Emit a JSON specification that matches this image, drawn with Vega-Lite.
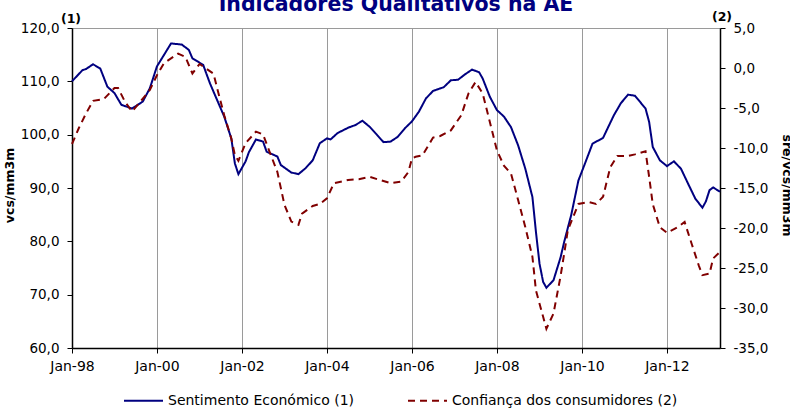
{
  "$schema": "https://vega.github.io/schema/vega-lite/v6.json",
  "description": "Indicadores Qualitativos na AE",
  "autosize": {"type": "none"},
  "padding": {"left": 72, "top": 28, "right": 70, "bottom": 64},
  "width": 648,
  "height": 320,
  "title": {
    "text": "Indicadores Qualitativos na AE",
    "font": "DejaVu Sans",
    "fontSize": 20.5,
    "fontWeight": "bold",
    "color": "#000080",
    "anchor": "middle",
    "offset": -4
  },
  "datasets": {
    "sentimento": [
      {"date": "1998-01-01", "value": 110.0, "series": "Sentimento Económico (1)"},
      {"date": "1998-04-01", "value": 112.1, "series": "Sentimento Económico (1)"},
      {"date": "1998-05-01", "value": 112.3, "series": "Sentimento Económico (1)"},
      {"date": "1998-07-01", "value": 113.2, "series": "Sentimento Económico (1)"},
      {"date": "1998-09-01", "value": 112.4, "series": "Sentimento Económico (1)"},
      {"date": "1998-11-01", "value": 109.0, "series": "Sentimento Económico (1)"},
      {"date": "1999-01-01", "value": 107.8, "series": "Sentimento Económico (1)"},
      {"date": "1999-03-01", "value": 105.6, "series": "Sentimento Económico (1)"},
      {"date": "1999-06-01", "value": 104.9, "series": "Sentimento Económico (1)"},
      {"date": "1999-09-01", "value": 106.2, "series": "Sentimento Económico (1)"},
      {"date": "1999-11-01", "value": 108.7, "series": "Sentimento Económico (1)"},
      {"date": "2000-01-01", "value": 112.8, "series": "Sentimento Económico (1)"},
      {"date": "2000-05-01", "value": 117.1, "series": "Sentimento Económico (1)"},
      {"date": "2000-08-01", "value": 116.9, "series": "Sentimento Económico (1)"},
      {"date": "2000-10-01", "value": 115.9, "series": "Sentimento Económico (1)"},
      {"date": "2000-11-01", "value": 114.3, "series": "Sentimento Económico (1)"},
      {"date": "2001-02-01", "value": 113.1, "series": "Sentimento Económico (1)"},
      {"date": "2001-04-01", "value": 109.6, "series": "Sentimento Económico (1)"},
      {"date": "2001-06-01", "value": 106.5, "series": "Sentimento Económico (1)"},
      {"date": "2001-08-01", "value": 103.4, "series": "Sentimento Económico (1)"},
      {"date": "2001-10-01", "value": 99.3, "series": "Sentimento Económico (1)"},
      {"date": "2001-11-01", "value": 94.6, "series": "Sentimento Económico (1)"},
      {"date": "2001-12-01", "value": 92.6, "series": "Sentimento Económico (1)"},
      {"date": "2002-02-01", "value": 95.0, "series": "Sentimento Económico (1)"},
      {"date": "2002-03-01", "value": 96.7, "series": "Sentimento Económico (1)"},
      {"date": "2002-05-01", "value": 99.1, "series": "Sentimento Económico (1)"},
      {"date": "2002-07-01", "value": 98.7, "series": "Sentimento Económico (1)"},
      {"date": "2002-08-01", "value": 96.8, "series": "Sentimento Económico (1)"},
      {"date": "2002-11-01", "value": 95.9, "series": "Sentimento Económico (1)"},
      {"date": "2002-12-01", "value": 94.3, "series": "Sentimento Económico (1)"},
      {"date": "2003-03-01", "value": 92.9, "series": "Sentimento Económico (1)"},
      {"date": "2003-05-01", "value": 92.6, "series": "Sentimento Económico (1)"},
      {"date": "2003-07-01", "value": 93.7, "series": "Sentimento Económico (1)"},
      {"date": "2003-09-01", "value": 95.2, "series": "Sentimento Económico (1)"},
      {"date": "2003-11-01", "value": 98.4, "series": "Sentimento Económico (1)"},
      {"date": "2004-01-01", "value": 99.3, "series": "Sentimento Económico (1)"},
      {"date": "2004-02-01", "value": 99.1, "series": "Sentimento Económico (1)"},
      {"date": "2004-04-01", "value": 100.3, "series": "Sentimento Económico (1)"},
      {"date": "2004-07-01", "value": 101.3, "series": "Sentimento Económico (1)"},
      {"date": "2004-09-01", "value": 101.8, "series": "Sentimento Económico (1)"},
      {"date": "2004-11-01", "value": 102.6, "series": "Sentimento Económico (1)"},
      {"date": "2005-01-01", "value": 101.5, "series": "Sentimento Económico (1)"},
      {"date": "2005-03-01", "value": 100.1, "series": "Sentimento Económico (1)"},
      {"date": "2005-05-01", "value": 98.6, "series": "Sentimento Económico (1)"},
      {"date": "2005-07-01", "value": 98.7, "series": "Sentimento Económico (1)"},
      {"date": "2005-09-01", "value": 99.6, "series": "Sentimento Económico (1)"},
      {"date": "2005-11-01", "value": 101.2, "series": "Sentimento Económico (1)"},
      {"date": "2006-01-01", "value": 102.5, "series": "Sentimento Económico (1)"},
      {"date": "2006-03-01", "value": 104.3, "series": "Sentimento Económico (1)"},
      {"date": "2006-05-01", "value": 106.8, "series": "Sentimento Económico (1)"},
      {"date": "2006-07-01", "value": 108.2, "series": "Sentimento Económico (1)"},
      {"date": "2006-10-01", "value": 108.9, "series": "Sentimento Económico (1)"},
      {"date": "2006-12-01", "value": 110.2, "series": "Sentimento Económico (1)"},
      {"date": "2007-02-01", "value": 110.3, "series": "Sentimento Económico (1)"},
      {"date": "2007-04-01", "value": 111.3, "series": "Sentimento Económico (1)"},
      {"date": "2007-06-01", "value": 112.2, "series": "Sentimento Económico (1)"},
      {"date": "2007-08-01", "value": 111.7, "series": "Sentimento Económico (1)"},
      {"date": "2007-09-01", "value": 110.5, "series": "Sentimento Económico (1)"},
      {"date": "2007-11-01", "value": 107.1, "series": "Sentimento Económico (1)"},
      {"date": "2008-01-01", "value": 104.6, "series": "Sentimento Económico (1)"},
      {"date": "2008-03-01", "value": 103.4, "series": "Sentimento Económico (1)"},
      {"date": "2008-05-01", "value": 101.4, "series": "Sentimento Económico (1)"},
      {"date": "2008-07-01", "value": 98.0, "series": "Sentimento Económico (1)"},
      {"date": "2008-09-01", "value": 93.6, "series": "Sentimento Económico (1)"},
      {"date": "2008-11-01", "value": 88.3, "series": "Sentimento Económico (1)"},
      {"date": "2008-12-01", "value": 81.8, "series": "Sentimento Económico (1)"},
      {"date": "2009-01-01", "value": 75.8, "series": "Sentimento Económico (1)"},
      {"date": "2009-02-01", "value": 72.4, "series": "Sentimento Económico (1)"},
      {"date": "2009-03-01", "value": 71.3, "series": "Sentimento Económico (1)"},
      {"date": "2009-05-01", "value": 72.7, "series": "Sentimento Económico (1)"},
      {"date": "2009-07-01", "value": 77.0, "series": "Sentimento Económico (1)"},
      {"date": "2009-08-01", "value": 79.9, "series": "Sentimento Económico (1)"},
      {"date": "2009-09-01", "value": 82.5, "series": "Sentimento Económico (1)"},
      {"date": "2009-10-01", "value": 85.0, "series": "Sentimento Económico (1)"},
      {"date": "2009-12-01", "value": 91.4, "series": "Sentimento Económico (1)"},
      {"date": "2010-02-01", "value": 94.9, "series": "Sentimento Económico (1)"},
      {"date": "2010-04-01", "value": 98.3, "series": "Sentimento Económico (1)"},
      {"date": "2010-07-01", "value": 99.4, "series": "Sentimento Económico (1)"},
      {"date": "2010-10-01", "value": 103.6, "series": "Sentimento Económico (1)"},
      {"date": "2010-12-01", "value": 105.9, "series": "Sentimento Económico (1)"},
      {"date": "2011-02-01", "value": 107.5, "series": "Sentimento Económico (1)"},
      {"date": "2011-04-01", "value": 107.3, "series": "Sentimento Económico (1)"},
      {"date": "2011-07-01", "value": 104.9, "series": "Sentimento Económico (1)"},
      {"date": "2011-08-01", "value": 102.4, "series": "Sentimento Económico (1)"},
      {"date": "2011-09-01", "value": 97.7, "series": "Sentimento Económico (1)"},
      {"date": "2011-11-01", "value": 95.2, "series": "Sentimento Económico (1)"},
      {"date": "2012-01-01", "value": 94.1, "series": "Sentimento Económico (1)"},
      {"date": "2012-03-01", "value": 95.0, "series": "Sentimento Económico (1)"},
      {"date": "2012-05-01", "value": 93.6, "series": "Sentimento Económico (1)"},
      {"date": "2012-07-01", "value": 90.8, "series": "Sentimento Económico (1)"},
      {"date": "2012-09-01", "value": 88.0, "series": "Sentimento Económico (1)"},
      {"date": "2012-11-01", "value": 86.3, "series": "Sentimento Económico (1)"},
      {"date": "2012-12-01", "value": 87.5, "series": "Sentimento Económico (1)"},
      {"date": "2013-01-01", "value": 89.6, "series": "Sentimento Económico (1)"},
      {"date": "2013-02-01", "value": 90.1, "series": "Sentimento Económico (1)"},
      {"date": "2013-04-01", "value": 89.3, "series": "Sentimento Económico (1)"}
    ],
    "confianca": [
      {"date": "1998-01-01", "value": -9.5, "series": "Confiança dos consumidores (2)"},
      {"date": "1998-03-01", "value": -7.5, "series": "Confiança dos consumidores (2)"},
      {"date": "1998-05-01", "value": -5.7, "series": "Confiança dos consumidores (2)"},
      {"date": "1998-07-01", "value": -4.1, "series": "Confiança dos consumidores (2)"},
      {"date": "1998-10-01", "value": -3.9, "series": "Confiança dos consumidores (2)"},
      {"date": "1999-01-01", "value": -2.5, "series": "Confiança dos consumidores (2)"},
      {"date": "1999-02-01", "value": -2.5, "series": "Confiança dos consumidores (2)"},
      {"date": "1999-04-01", "value": -4.2, "series": "Confiança dos consumidores (2)"},
      {"date": "1999-06-01", "value": -5.45, "series": "Confiança dos consumidores (2)"},
      {"date": "1999-08-01", "value": -4.4, "series": "Confiança dos consumidores (2)"},
      {"date": "1999-11-01", "value": -2.75, "series": "Confiança dos consumidores (2)"},
      {"date": "2000-01-01", "value": -0.9, "series": "Confiança dos consumidores (2)"},
      {"date": "2000-03-01", "value": 0.6, "series": "Confiança dos consumidores (2)"},
      {"date": "2000-07-01", "value": 1.8, "series": "Confiança dos consumidores (2)"},
      {"date": "2000-09-01", "value": 1.4, "series": "Confiança dos consumidores (2)"},
      {"date": "2000-11-01", "value": -0.7, "series": "Confiança dos consumidores (2)"},
      {"date": "2001-01-01", "value": 0.5, "series": "Confiança dos consumidores (2)"},
      {"date": "2001-05-01", "value": -0.7, "series": "Confiança dos consumidores (2)"},
      {"date": "2001-06-01", "value": -2.5, "series": "Confiança dos consumidores (2)"},
      {"date": "2001-08-01", "value": -5.9, "series": "Confiança dos consumidores (2)"},
      {"date": "2001-10-01", "value": -8.8, "series": "Confiança dos consumidores (2)"},
      {"date": "2001-11-01", "value": -10.9, "series": "Confiança dos consumidores (2)"},
      {"date": "2001-12-01", "value": -11.6, "series": "Confiança dos consumidores (2)"},
      {"date": "2002-02-01", "value": -9.4, "series": "Confiança dos consumidores (2)"},
      {"date": "2002-05-01", "value": -7.95, "series": "Confiança dos consumidores (2)"},
      {"date": "2002-07-01", "value": -8.3, "series": "Confiança dos consumidores (2)"},
      {"date": "2002-09-01", "value": -10.7, "series": "Confiança dos consumidores (2)"},
      {"date": "2002-11-01", "value": -13.0, "series": "Confiança dos consumidores (2)"},
      {"date": "2003-01-01", "value": -17.1, "series": "Confiança dos consumidores (2)"},
      {"date": "2003-03-01", "value": -19.2, "series": "Confiança dos consumidores (2)"},
      {"date": "2003-05-01", "value": -19.6, "series": "Confiança dos consumidores (2)"},
      {"date": "2003-06-01", "value": -18.2, "series": "Confiança dos consumidores (2)"},
      {"date": "2003-09-01", "value": -17.25, "series": "Confiança dos consumidores (2)"},
      {"date": "2003-11-01", "value": -17.0, "series": "Confiança dos consumidores (2)"},
      {"date": "2004-01-01", "value": -16.3, "series": "Confiança dos consumidores (2)"},
      {"date": "2004-03-01", "value": -14.4, "series": "Confiança dos consumidores (2)"},
      {"date": "2004-07-01", "value": -14.0, "series": "Confiança dos consumidores (2)"},
      {"date": "2004-10-01", "value": -13.9, "series": "Confiança dos consumidores (2)"},
      {"date": "2005-01-01", "value": -13.6, "series": "Confiança dos consumidores (2)"},
      {"date": "2005-04-01", "value": -14.0, "series": "Confiança dos consumidores (2)"},
      {"date": "2005-07-01", "value": -14.4, "series": "Confiança dos consumidores (2)"},
      {"date": "2005-10-01", "value": -14.2, "series": "Confiança dos consumidores (2)"},
      {"date": "2005-12-01", "value": -13.0, "series": "Confiança dos consumidores (2)"},
      {"date": "2006-01-01", "value": -11.3, "series": "Confiança dos consumidores (2)"},
      {"date": "2006-02-01", "value": -11.1, "series": "Confiança dos consumidores (2)"},
      {"date": "2006-04-01", "value": -10.9, "series": "Confiança dos consumidores (2)"},
      {"date": "2006-07-01", "value": -8.7, "series": "Confiança dos consumidores (2)"},
      {"date": "2006-09-01", "value": -8.5, "series": "Confiança dos consumidores (2)"},
      {"date": "2006-12-01", "value": -7.8, "series": "Confiança dos consumidores (2)"},
      {"date": "2007-03-01", "value": -5.9, "series": "Confiança dos consumidores (2)"},
      {"date": "2007-05-01", "value": -3.2, "series": "Confiança dos consumidores (2)"},
      {"date": "2007-07-01", "value": -1.75, "series": "Confiança dos consumidores (2)"},
      {"date": "2007-09-01", "value": -3.2, "series": "Confiança dos consumidores (2)"},
      {"date": "2007-11-01", "value": -6.75, "series": "Confiança dos consumidores (2)"},
      {"date": "2008-01-01", "value": -10.3, "series": "Confiança dos consumidores (2)"},
      {"date": "2008-03-01", "value": -12.2, "series": "Confiança dos consumidores (2)"},
      {"date": "2008-05-01", "value": -13.2, "series": "Confiança dos consumidores (2)"},
      {"date": "2008-07-01", "value": -16.5, "series": "Confiança dos consumidores (2)"},
      {"date": "2008-09-01", "value": -19.9, "series": "Confiança dos consumidores (2)"},
      {"date": "2008-11-01", "value": -23.6, "series": "Confiança dos consumidores (2)"},
      {"date": "2008-12-01", "value": -27.8, "series": "Confiança dos consumidores (2)"},
      {"date": "2009-02-01", "value": -31.1, "series": "Confiança dos consumidores (2)"},
      {"date": "2009-03-01", "value": -32.6, "series": "Confiança dos consumidores (2)"},
      {"date": "2009-05-01", "value": -30.7, "series": "Confiança dos consumidores (2)"},
      {"date": "2009-07-01", "value": -26.0, "series": "Confiança dos consumidores (2)"},
      {"date": "2009-08-01", "value": -23.2, "series": "Confiança dos consumidores (2)"},
      {"date": "2009-09-01", "value": -20.3, "series": "Confiança dos consumidores (2)"},
      {"date": "2009-12-01", "value": -17.0, "series": "Confiança dos consumidores (2)"},
      {"date": "2010-03-01", "value": -16.75, "series": "Confiança dos consumidores (2)"},
      {"date": "2010-05-01", "value": -17.0, "series": "Confiança dos consumidores (2)"},
      {"date": "2010-07-01", "value": -16.1, "series": "Confiança dos consumidores (2)"},
      {"date": "2010-09-01", "value": -12.4, "series": "Confiança dos consumidores (2)"},
      {"date": "2010-11-01", "value": -11.0, "series": "Confiança dos consumidores (2)"},
      {"date": "2011-02-01", "value": -11.0, "series": "Confiança dos consumidores (2)"},
      {"date": "2011-04-01", "value": -10.8, "series": "Confiança dos consumidores (2)"},
      {"date": "2011-07-01", "value": -10.4, "series": "Confiança dos consumidores (2)"},
      {"date": "2011-08-01", "value": -13.6, "series": "Confiança dos consumidores (2)"},
      {"date": "2011-09-01", "value": -17.0, "series": "Confiança dos consumidores (2)"},
      {"date": "2011-11-01", "value": -19.9, "series": "Confiança dos consumidores (2)"},
      {"date": "2012-01-01", "value": -20.6, "series": "Confiança dos consumidores (2)"},
      {"date": "2012-04-01", "value": -19.9, "series": "Confiança dos consumidores (2)"},
      {"date": "2012-06-01", "value": -19.25, "series": "Confiança dos consumidores (2)"},
      {"date": "2012-08-01", "value": -22.0, "series": "Confiança dos consumidores (2)"},
      {"date": "2012-10-01", "value": -24.7, "series": "Confiança dos consumidores (2)"},
      {"date": "2012-11-01", "value": -25.9, "series": "Confiança dos consumidores (2)"},
      {"date": "2013-01-01", "value": -25.7, "series": "Confiança dos consumidores (2)"},
      {"date": "2013-02-01", "value": -23.8, "series": "Confiança dos consumidores (2)"},
      {"date": "2013-04-01", "value": -23.0, "series": "Confiança dos consumidores (2)"}
    ]
  },
  "encoding": {
    "x": {
      "field": "date",
      "type": "temporal",
      "title": null,
      "scale": {"domain": [{"year": 1998, "month": 1, "date": 1}, {"year": 2013, "month": 4, "date": 1}]},
      "axis": {
        "values": [
          {"year": 1998, "month": 1, "date": 1},
          {"year": 2000, "month": 1, "date": 1},
          {"year": 2002, "month": 1, "date": 1},
          {"year": 2004, "month": 1, "date": 1},
          {"year": 2006, "month": 1, "date": 1},
          {"year": 2008, "month": 1, "date": 1},
          {"year": 2010, "month": 1, "date": 1},
          {"year": 2012, "month": 1, "date": 1}
        ],
        "format": "%b-%y",
        "labelAlign": "center",
        "labelFlush": false,
        "labelFontSize": 14,
        "grid": true,
        "gridColor": "#9a9a9a",
        "gridWidth": 1,
        "tickSize": 5,
        "labelPadding": 6
      }
    }
  },
  "layer": [
    {
      "data": {"name": "sentimento"},
      "encoding": {
        "y": {
          "field": "value",
          "type": "quantitative",
          "scale": {"domain": [60, 120]},
          "axis": {
            "orient": "left",
            "title": "vcs/mm3m",
            "titleX": -56,
            "titleY": 157,
            "values": [60, 70, 80, 90, 100, 110, 120],
            "format": ".1f",
            "labelPadding": 8
          }
        }
      },
      "layer": [
        {
          "mark": {"type": "line", "strokeWidth": 2},
          "encoding": {
            "color": {
              "field": "series",
              "type": "nominal",
              "scale": {"domain": ["Sentimento Económico (1)", "Confiança dos consumidores (2)"], "range": ["#000080", "#800000"]}
            },
            "strokeDash": {
              "field": "series",
              "type": "nominal",
              "scale": {"domain": ["Sentimento Económico (1)", "Confiança dos consumidores (2)"], "range": [[1, 0], [7, 5]]}
            }
          }
        },
        {
          "data": {"values": [{"date": "1998-01-01", "value": 120, "label": "(1)"}]},
          "mark": {"type": "text", "font": "DejaVu Sans", "fontSize": 12.5, "fontWeight": "bold", "align": "center", "color": "#000000", "dx": -1, "dy": -9},
          "encoding": {
            "text": {"field": "label"}
          }
        }
      ]
    },
    {
      "data": {"name": "confianca"},
      "encoding": {
        "y": {
          "field": "value",
          "type": "quantitative",
          "scale": {"domain": [-35, 5]},
          "axis": {
            "orient": "right",
            "title": "sre/vcs/mm3m",
            "titleX": 59,
            "titleY": 157,
            "values": [-35, -30, -25, -20, -15, -10, -5, 0, 5],
            "format": ".1f",
            "labelPadding": 8
          }
        }
      },
      "layer": [
        {
          "mark": {"type": "line", "strokeWidth": 2},
          "encoding": {
            "color": {"field": "series", "type": "nominal"},
            "strokeDash": {"field": "series", "type": "nominal"}
          }
        },
        {
          "data": {"values": [{"date": "2013-04-01", "value": 5, "label": "(2)"}]},
          "mark": {"type": "text", "font": "DejaVu Sans", "fontSize": 12.5, "fontWeight": "bold", "align": "center", "color": "#000000", "dx": 2, "dy": -11},
          "encoding": {
            "text": {"field": "label"}
          }
        }
      ]
    }
  ],
  "resolve": {"scale": {"y": "independent", "color": "shared", "strokeDash": "shared"}},
  "config": {
    "locale": {
      "number": {"decimal": ",", "thousands": ".", "grouping": [3], "currency": ["", " €"], "minus": "-"}
    },
    "font": "DejaVu Sans",
    "view": {"stroke": "#9a9a9a"},
    "axis": {
      "labelFont": "DejaVu Sans",
      "labelFontSize": 13.5,
      "labelColor": "#000000",
      "titleFont": "DejaVu Sans",
      "titleFontSize": 12.5,
      "titleFontWeight": "bold",
      "titleColor": "#000000",
      "domainColor": "#000000",
      "domainWidth": 1.5,
      "tickColor": "#000000",
      "tickSize": 5,
      "grid": false
    },
    "legend": {
      "orient": "none",
      "legendX": 51,
      "legendY": 352,
      "direction": "horizontal",
      "title": null,
      "symbolType": "stroke",
      "symbolSize": 1521,
      "symbolStrokeWidth": 2,
      "labelFont": "DejaVu Sans",
      "labelFontSize": 14,
      "labelColor": "#000000",
      "labelOffset": 4,
      "labelLimit": 400,
      "columnPadding": 50
    }
  }
}
